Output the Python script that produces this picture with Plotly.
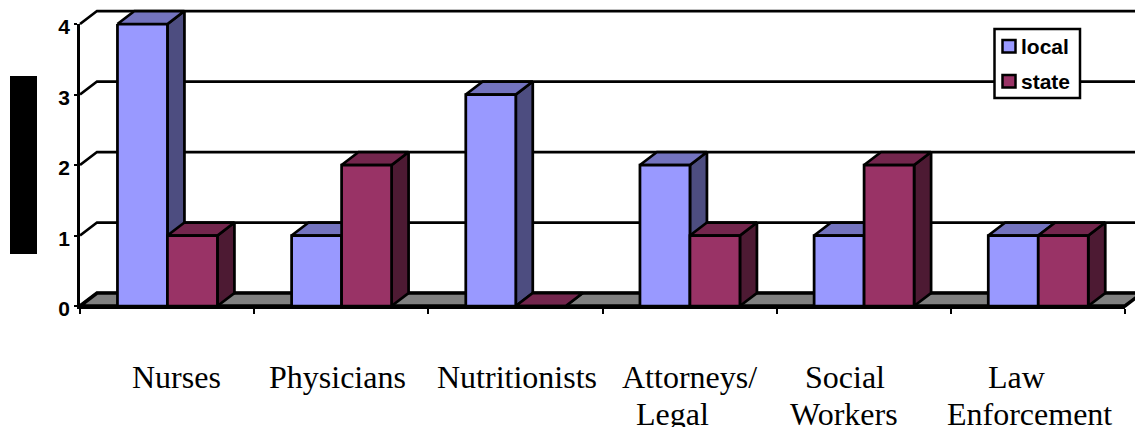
import plotly.graph_objects as go

categories = ["Nurses", "Physicians", "Nutritionists", "Attorneys/<br>Legal", "Social<br>Workers", "Law<br>Enforcement"]
local = [4, 1, 3, 2, 1, 1]
state = [1, 2, 0, 1, 2, 1]
y_ticks = [0, 1, 2, 3, 4]

# layout constants (pixels on the page)
W, H = 1135, 427
L, R, T, B = 80, 1125, 24, 306
UX, UY = (R - L) / 6, (B - T) / 4
DX, DY = 17 / UX, 13 / UY
BAR_W, OFF_L = 0.287, 0.215
OFF_S = OFF_L + BAR_W
LABEL_CENTERS = [[176], [337], [517], [689, 672], [845, 844], [1016, 1029]]
LABEL_ROWS = [377, 414]
LW = 2.75
FONT_B = "Liberation Sans"
FONT_S = "Liberation Serif"
C_L, C_L_TOP, C_L_SIDE = "#9999FF", "#7373BF", "#4D4D80"
C_S, C_S_TOP, C_S_SIDE = "#993366", "#73264D", "#4D1A33"


def px(v):
    return v / W


def py(v):
    return 1 - v / H


def sides(vals, off):
    xs, ys = [], []
    for i, v in enumerate(vals):
        x1 = i + off + BAR_W
        xs += [x1, x1 + DX, x1 + DX, x1, x1, None]
        ys += [0, DY, v + DY, v, 0, None]
    return xs, ys


def tops(vals, off):
    xs, ys = [], []
    for i, v in enumerate(vals):
        x0, x1 = i + off, i + off + BAR_W
        xs += [x0, x0 + DX, x1 + DX, x1, x0, None]
        ys += [v, v + DY, v + DY, v, v, None]
    return xs, ys


def poly(xy, color, width=LW):
    return go.Scatter(x=xy[0], y=xy[1], mode="lines", fill="toself", fillcolor=color,
                      line=dict(color="black", width=width),
                      showlegend=False, hoverinfo="skip")


n = len(categories)
fig = go.Figure()

# back wall gridlines and left wall diagonals (full-page backdrop axes)
gx, gy = [], []
for t in y_ticks:
    gx += [0, DX, n + DX, None]
    gy += [t, t + DY, t + DY, None]
fig.add_trace(go.Scatter(x=gx, y=gy, mode="lines", line=dict(color="black", width=LW),
                         showlegend=False, hoverinfo="skip"))
# floor
fig.add_trace(poly(([0, DX, n + DX, n, 0], [0, DY, DY, 0, 0]), "#808080", 3.5))
# depth faces
fig.add_trace(poly(sides(local, OFF_L), C_L_SIDE))
fig.add_trace(poly(tops(local, OFF_L), C_L_TOP))
fig.add_trace(poly(sides(state, OFF_S), C_S_SIDE))
fig.add_trace(poly(tops(state, OFF_S), C_S_TOP))
# front faces on the real chart axes
for name, vals, off, col in (("local", local, OFF_L, C_L), ("state", state, OFF_S, C_S)):
    fig.add_trace(go.Bar(name=name, x=list(range(n)), y=vals, width=BAR_W, offset=off,
                         marker=dict(color=col, line=dict(color="black", width=LW)),
                         xaxis="x2", yaxis="y2", showlegend=False, cliponaxis=False))

ann = []
for c, centers in zip(categories, LABEL_CENTERS):
    for part, cx, row in zip(c.split("<br>"), centers, LABEL_ROWS):
        ann.append(dict(x=px(cx), y=py(row), xref="paper", yref="paper", text=part, showarrow=False,
                        xanchor="center", yanchor="middle",
                        font=dict(family=FONT_S, size=32, color="black")))
# legend box content
for label, yc in (("local", 46), ("state", 81)):
    ann.append(dict(x=px(1021), y=py(yc), xref="paper", yref="paper", text="<b>%s</b>" % label, showarrow=False,
                    xanchor="left", yanchor="middle", xshift=-2,
                    font=dict(family=FONT_B, size=21, color="black")))


def rect(x0, x1, y0, y1, fill, lw):
    return dict(type="rect", xref="paper", yref="paper", x0=px(x0), x1=px(x1), y0=py(y0), y1=py(y1),
                fillcolor=fill, line=dict(color="black", width=lw))


shapes = [
    rect(10, 37, 76, 254, "black", 0),
    rect(994.5, 1080, 29, 98, "white", 2.5),
    rect(1002.5, 1015.5, 40, 52.5, C_L, 2.5),
    rect(1002.5, 1015.5, 75, 87.5, C_S, 2.5),
]

fig.update_layout(
    width=W, height=H, margin=dict(l=0, r=0, t=0, b=0, autoexpand=False),
    plot_bgcolor="rgba(0,0,0,0)", paper_bgcolor="white", showlegend=False,
    annotations=ann, shapes=shapes, barmode="overlay",
    xaxis=dict(range=[-L / UX, (W - L) / UX], domain=[0, 1], visible=False),
    yaxis=dict(range=[-(H - B) / UY, B / UY], domain=[0, 1], visible=False),
    xaxis2=dict(range=[0, n], domain=[L / W, R / W], anchor="y2",
                tickvals=list(range(n + 1)), ticktext=[""] * (n + 1), ticks="outside", ticklen=5,
                tickwidth=2, tickcolor="black", showgrid=False, zeroline=False, showline=True,
                linecolor="black", linewidth=LW),
    yaxis2=dict(range=[0, max(y_ticks)], domain=[1 - B / H, 1 - T / H], anchor="x2",
                tickvals=y_ticks, ticks="outside", ticklen=3, tickwidth=2, ticklabelshift=3,
                tickcolor="black", showgrid=False, zeroline=False, showline=True, linecolor="black", linewidth=LW,
                tickfont=dict(family=FONT_B, size=21, color="black", weight="bold")),
)

fig.write_html("out.html", config={"displayModeBar": False},
               post_script="document.body.style.margin='0';document.body.style.overflow='hidden';")
